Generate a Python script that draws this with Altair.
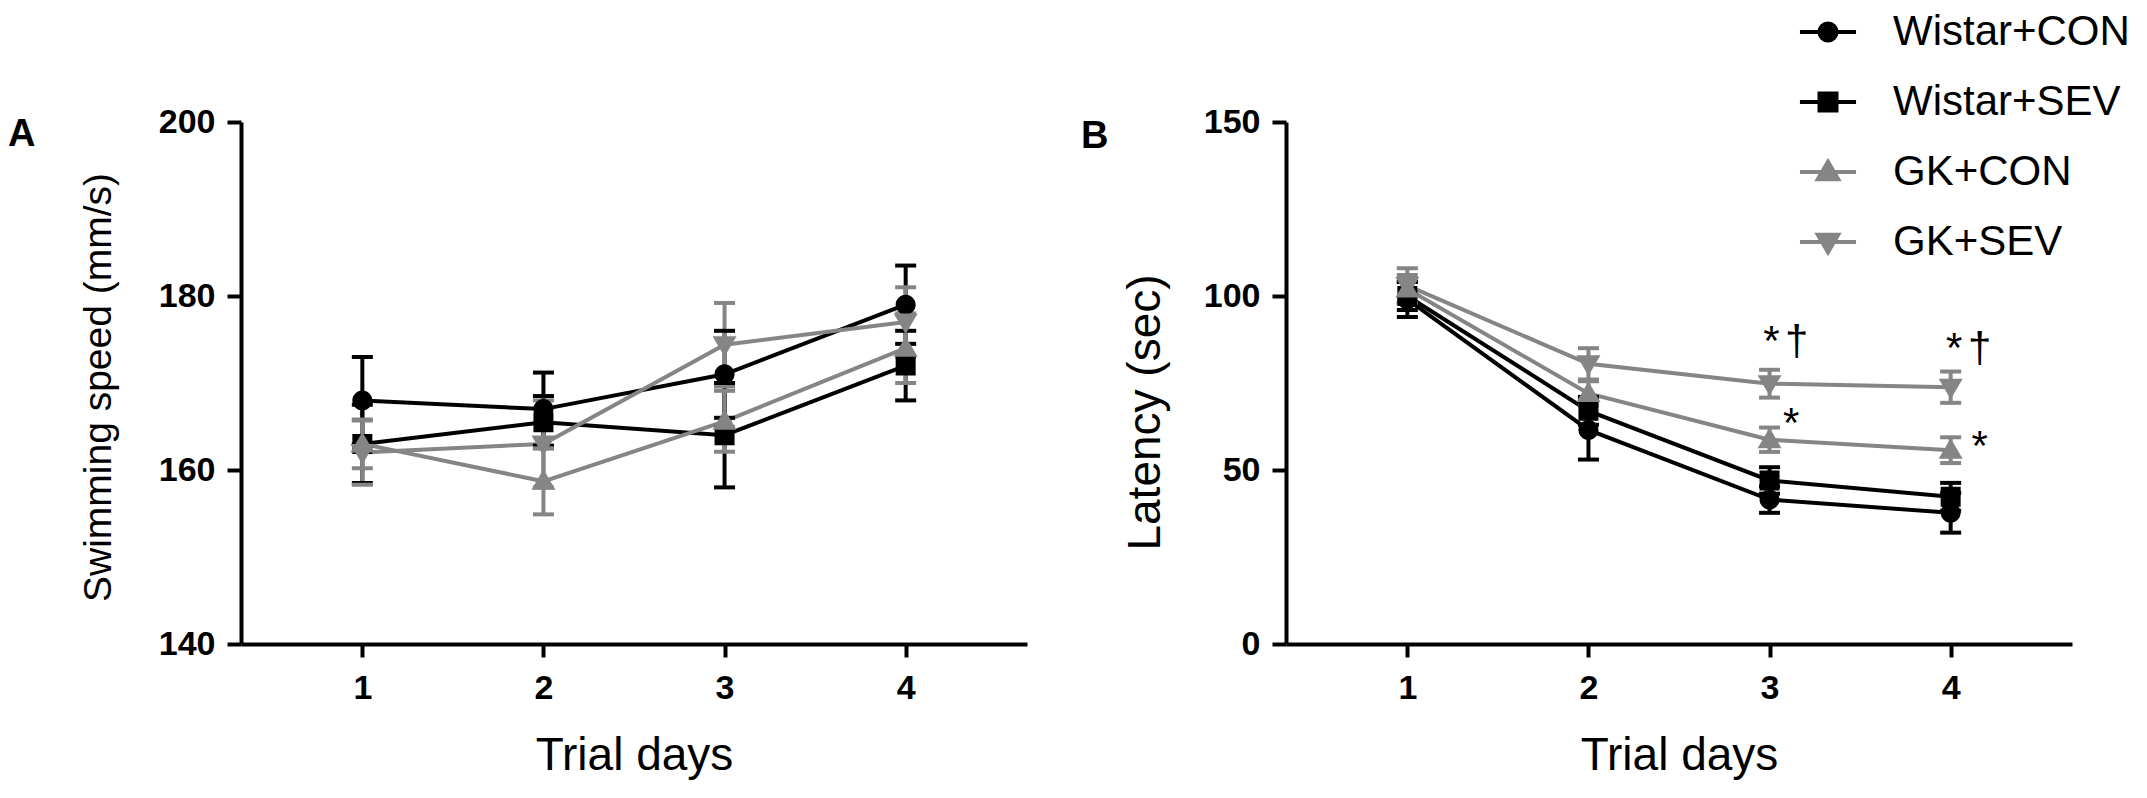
import altair as alt
import pandas as pd

# ---------------- data ----------------
series = ["Wistar+CON", "Wistar+SEV", "GK+CON", "GK+SEV"]
days = [1, 2, 3, 4]

# Panel A: swimming speed (mm/s), mean and SE
speed_wistar_con = [168, 167, 171, 179]
speed_wistar_sev = [163, 165.5, 164, 172]
speed_gk_con = [163, 158.7, 165.6, 174]
speed_gk_sev = [162, 163, 174.4, 177]
speed_se_wistar_con = [5, 4.2, 5, 4.5]
speed_se_wistar_sev = [4.5, 3, 6, 4]
speed_se_gk_con = [2.8, 3.8, 3.5, 4]
speed_se_gk_sev = [3.7, 5, 4.8, 4]

# Panel B: latency (sec), mean and SE
lat_wistar_con = [99, 61.5, 41.5, 37.7]
lat_wistar_sev = [100, 67, 47, 42.3]
lat_gk_con = [102, 72, 58.7, 55.7]
lat_gk_sev = [103, 80.5, 74.8, 73.8]
lat_se_wistar_con = [5, 8.5, 3.8, 5.7]
lat_se_wistar_sev = [4, 4, 3.8, 4]
lat_se_gk_con = [4, 3.5, 3.5, 3.7]
lat_se_gk_sev = [5, 4.5, 4, 4.5]

speed_ticks = [140, 160, 180, 200]
lat_ticks = [0, 50, 100, 150]

# significance marks in panel B
ann_text = ["*", "\u2020", "*", "*", "\u2020", "*"]
ann_day = [3.01, 3.15, 3.12, 4.02, 4.16, 4.16]
ann_value = [83, 83, 59.4, 81, 81, 52.9]

# ---------------- helpers ----------------
def frame(means, ses):
    rows = []
    for s, m, e in zip(series, means, ses):
        for d, v, se in zip(days, m, e):
            rows.append({"series": s, "day": d, "mean": v, "lo": v - se, "hi": v + se})
    return pd.DataFrame(rows)

speed_df = frame([speed_wistar_con, speed_wistar_sev, speed_gk_con, speed_gk_sev],
                 [speed_se_wistar_con, speed_se_wistar_sev, speed_se_gk_con, speed_se_gk_sev])
lat_df = frame([lat_wistar_con, lat_wistar_sev, lat_gk_con, lat_gk_sev],
               [lat_se_wistar_con, lat_se_wistar_sev, lat_se_gk_con, lat_se_gk_sev])
ann_df = pd.DataFrame({"day": ann_day, "mean": ann_value, "label": ann_text})

FONT = "Liberation Sans"
colors = ["#000000", "#000000", "#858585", "#858585"]
L = "M-3.3,0H3.3"
shapes = [
    L + "M1,0A1,1,0,1,1,-1,0A1,1,0,1,1,1,0Z",
    L + "M-1,-1H1V1H-1Z",
    L + "M0,-1.2L1.2,0.85H-1.2Z",
    L + "M0,1.2L1.2,-0.85H-1.2Z",
]


def panel(df, ydom, yticks, ytitle, ytitle_size, ytitle_y, ytitle_pad, letter,
          letter_dx, letter_dy, legend, ann=None):
    color_scale = alt.Scale(domain=series, range=colors)
    if legend:
        leg = alt.Legend(title=None, orient="none", legendX=521, legendY=-111,
                         labelFontSize=42, labelFont=FONT, labelColor="black",
                         labelLimit=600, symbolSize=289, symbolStrokeWidth=4,
                         labelOffset=44, rowPadding=28, padding=0, symbolOpacity=1)
    else:
        leg = None
    xscale = alt.Scale(domain=[0.33, 4.67], nice=False, zero=False)
    xaxis = alt.Axis(values=days, format="d", title="Trial days", tickSize=13,
                     labelPadding=14, titlePadding=28)
    yscale = alt.Scale(domain=ydom, nice=False, zero=False)
    yaxis = alt.Axis(values=yticks, title=ytitle, titlePadding=ytitle_pad,
                     titleFontSize=ytitle_size, titleY=ytitle_y)
    x = alt.X("day:Q", scale=xscale, axis=xaxis)
    stroke = alt.Stroke("series:N", scale=color_scale, legend=leg)
    fill = alt.Fill("series:N", scale=color_scale, legend=leg)
    shape = alt.Shape("series:N", scale=alt.Scale(domain=series, range=shapes), legend=leg)

    base = alt.Chart(df)
    lines = base.mark_line(strokeWidth=4).encode(
        x=x, y=alt.Y("mean:Q", scale=yscale, axis=yaxis), stroke=stroke, detail="series:N")
    rules = base.mark_rule(strokeWidth=4).encode(
        x=x, y=alt.Y("lo:Q", scale=yscale, axis=yaxis), y2="hi:Q", stroke=stroke)
    caps_lo = base.mark_tick(orient="horizontal", size=21, thickness=4, opacity=1).encode(
        x=x, y=alt.Y("lo:Q", scale=yscale, axis=yaxis), fill=fill)
    caps_hi = base.mark_tick(orient="horizontal", size=21, thickness=4, opacity=1).encode(
        x=x, y=alt.Y("hi:Q", scale=yscale, axis=yaxis), fill=fill)
    points = base.mark_point(filled=True, size=400, opacity=1).encode(
        x=x, y=alt.Y("mean:Q", scale=yscale, axis=yaxis), fill=fill, shape=shape)
    layers = [lines, rules, caps_lo, caps_hi, points]
    if ann is not None:
        txt = alt.Chart(ann).mark_text(fontSize=42, font=FONT, baseline="alphabetic",
                                       align="center", color="black").encode(
            x=x, y=alt.Y("mean:Q", scale=yscale, axis=yaxis), text="label:N")
        layers.append(txt)
    return alt.layer(*layers).properties(
        width=786, height=522,
        title=alt.TitleParams(text=letter, anchor="start", frame="group", dx=letter_dx,
                              dy=letter_dy, offset=0, fontSize=38, fontWeight="bold",
                              font=FONT, color="black", baseline="alphabetic"),
    )


pA = panel(speed_df, [140, 200], speed_ticks, "Swimming speed (mm/s)", 39, 265, 40,
           "A", -233, 79, False)
pB = panel(lat_df, [0, 150], lat_ticks, "Latency (sec)", 46, 290, 34,
           "B", -205, 175, True, ann_df)

chart = alt.hconcat(pA, pB, spacing=259, bounds="flush").resolve_scale(
    stroke="independent", fill="independent", shape="independent"
).properties(
    autosize=alt.AutoSizeParams(type="none"),
    padding={"left": 233, "top": 114, "right": 1898, "bottom": 668},
).configure_view(stroke=None).configure_axis(
    domainColor="black", domainWidth=4, tickColor="black", tickWidth=4, tickSize=14,
    labelFont=FONT, labelFontSize=34, labelFontWeight="bold", labelColor="black",
    labelPadding=12, titleFont=FONT, titleFontSize=46, titleFontWeight="normal",
    titleColor="black", grid=False,
)

chart.save("out.html", embed_options={"renderer": "svg", "actions": False})
